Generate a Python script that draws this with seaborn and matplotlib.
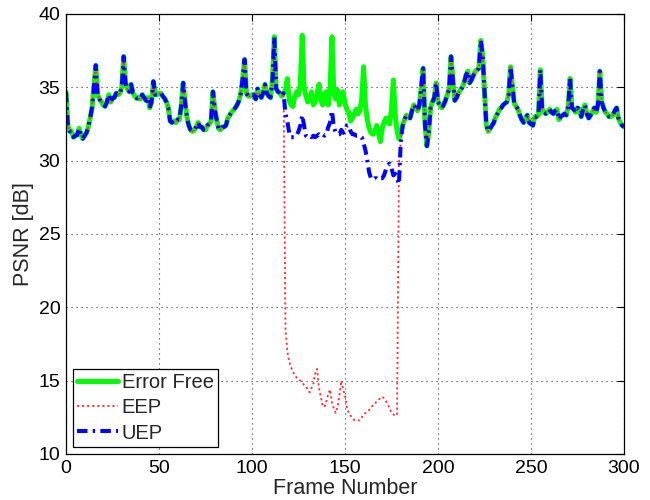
import numpy as np
import pandas as pd
import matplotlib
matplotlib.use("Agg")
import matplotlib.pyplot as plt
import seaborn as sns

# ---- data (PSNR in dB per frame) ----
# frames 0..117: all three schemes coincide
psnr_start = [34.7, 32.4, 32.0, 32.0, 31.6, 31.7, 31.75, 32.2, 31.8, 31.5,
              31.7, 31.9, 32.3, 32.9, 33.6, 35.0, 36.5, 34.5, 34.2, 34.0,
              33.8, 33.7, 34.0, 34.5, 34.0, 34.25, 34.3, 34.6, 34.5, 34.6,
              35.0, 37.1, 35.3, 34.9, 34.7, 35.2, 34.6, 34.4, 34.25, 34.3,
              34.2, 34.5, 34.3, 34.1, 34.3, 33.6, 34.0, 35.4, 34.5, 34.5,
              34.6, 34.6, 34.4, 34.25, 34.0, 33.6, 32.7, 32.6, 32.7, 32.6,
              32.8, 32.8, 33.8, 35.3, 34.0, 33.0, 32.4, 32.1, 32.0, 32.1,
              32.3, 32.6, 32.3, 32.3, 32.1, 32.1, 32.4, 32.5, 32.7, 34.7,
              33.5, 32.8, 32.2, 32.1, 32.3, 32.3, 32.4, 32.9, 33.1, 33.3,
              33.45, 33.6, 33.8, 34.1, 34.6, 35.6, 36.9, 34.6, 34.4, 34.4,
              34.5, 34.5, 34.2, 34.9, 34.5, 34.3, 34.6, 35.2, 34.6, 34.4,
              34.3, 35.5, 38.45, 34.9, 34.7, 34.6, 34.4, 34.6]

# frames 118..181: the schemes differ
error_free_mid = [34.8, 35.6, 34.1, 33.8, 33.7, 34.4, 34.7, 34.5, 35.2, 38.55,
                  35.0, 34.4, 34.0, 34.1, 34.7, 33.8, 34.0, 34.5, 35.2, 34.1,
                  33.8, 34.6, 34.7, 33.8, 35.0, 38.45, 34.6, 34.2, 34.8, 33.8,
                  34.2, 34.7, 33.9, 33.5, 33.3, 32.7, 32.9, 33.2, 33.5, 33.2,
                  33.4, 34.2, 36.4, 33.8, 32.8, 32.2, 31.9, 31.8, 32.0, 32.4,
                  31.9, 31.3, 32.2, 32.6, 32.9, 32.6, 32.5, 33.5, 35.5, 33.1,
                  32.0, 31.5, 31.9, 32.4]
eep_mid = [18.5, 17.0, 16.3, 15.9, 15.6, 15.4, 15.2, 15.1, 15.0, 14.9,
           14.7, 14.6, 14.4, 14.2, 14.5, 14.8, 15.5, 15.8, 14.5, 13.9,
           13.3, 13.2, 13.6, 14.1, 14.4, 13.5, 13.1, 12.8, 13.2, 14.0,
           15.0, 14.4, 14.0, 13.2, 12.8, 12.6, 12.5, 12.3, 12.3, 12.3,
           12.3, 12.5, 12.7, 12.8, 12.9, 13.0, 13.2, 13.3, 13.4, 13.6,
           13.7, 13.8, 13.9, 13.8, 13.6, 13.4, 13.1, 12.8, 12.7, 12.6,
           12.7, 29.8, 31.3, 32.4]
uep_mid = [33.2, 32.7, 31.9, 31.6, 31.6, 31.6, 31.7, 32.0, 32.4, 33.1,
           32.4, 31.7, 31.6, 31.7, 31.6, 31.7, 31.6, 31.7, 31.8, 31.7,
           31.8, 31.7, 31.8, 32.3, 32.6, 33.4, 32.3, 31.9, 31.8, 31.8,
           32.1, 31.9, 32.0, 32.4, 32.4, 32.0, 31.8, 31.8, 31.7, 31.7,
           31.7, 31.6, 31.2, 30.7, 30.0, 29.2, 28.8, 28.7, 28.8, 28.8,
           28.7, 28.8, 28.8, 29.0, 29.4, 29.7, 29.8, 29.5, 29.0, 29.1,
           28.8, 28.4, 31.3, 32.4]

# frames 182..300: all three schemes coincide again
psnr_end = [32.8, 33.1, 33.0, 32.9, 33.4, 33.8, 33.6, 33.4, 33.8, 35.0,
            36.3, 32.5, 31.0, 31.9, 33.6, 34.0, 34.3, 35.3, 34.0, 33.8,
            33.6, 33.8, 34.1, 34.5, 34.9, 37.1, 35.5, 34.1, 34.3, 34.6,
            34.8, 35.0, 35.3, 35.8, 36.1, 35.3, 35.5, 35.8, 36.1, 36.2,
            36.3, 38.2, 37.2, 34.7, 32.4, 32.0, 32.2, 32.4, 32.6, 33.0,
            33.2, 33.5, 33.6, 33.8, 33.9, 34.0, 34.5, 36.4, 35.1, 33.9,
            33.7, 33.5, 33.1, 32.8, 32.6, 32.9, 33.1, 32.6, 32.5, 32.4,
            33.0, 33.0, 33.1, 36.2, 33.5, 33.3, 33.2, 33.3, 33.5, 33.3,
            33.2, 33.4, 33.5, 32.8, 33.0, 33.1, 33.2, 33.1, 33.7, 35.6,
            33.6, 33.5, 33.3, 33.6, 33.5, 33.0, 33.5, 33.8, 33.2, 32.9,
            33.1, 33.3, 33.6, 33.3, 33.8, 36.1, 34.0, 33.6, 33.3, 33.2,
            33.0, 33.0, 33.1, 33.4, 33.6, 32.9, 32.6, 32.4, 32.3]

series_names = ["Error Free", "EEP", "UEP"]
x_ticks = [0, 50, 100, 150, 200, 250, 300]
y_ticks = [10, 15, 20, 25, 30, 35, 40]

# ---- build series ----
error_free = psnr_start + error_free_mid + psnr_end
eep = psnr_start + eep_mid + psnr_end
uep = psnr_start + uep_mid + psnr_end
frames = np.arange(len(error_free))

sns.set_style("white")
plt.rcParams["font.family"] = ["Liberation Sans", "DejaVu Sans"]

fig = plt.figure(figsize=(6.5, 5.0), dpi=100)
ax = fig.add_axes([0.1015, 0.092, 0.8585, 0.88])

sns.lineplot(x=frames, y=error_free, ax=ax, color="#00ff00", lw=3.6,
             label=series_names[0], estimator=None, sort=False)
sns.lineplot(x=frames, y=eep, ax=ax, color="#ff3030", lw=1.3,
             linestyle=(0, (1.2, 1.6)), label=series_names[1],
             estimator=None, sort=False)
sns.lineplot(x=frames, y=uep, ax=ax, color="#0000ff", lw=2.9,
             linestyle=(0, (2.6, 1.3, 0.6, 1.3)), label=series_names[2],
             estimator=None, sort=False)

ax.set_xlim(0, 300)
ax.set_ylim(10, 40)
ax.set_xticks(x_ticks)
ax.set_yticks(y_ticks)
ax.tick_params(direction="in", length=5, width=0.8, top=True, right=True,
               labelsize=14, colors="black", pad=4)
ax.grid(True, linestyle=(0, (1, 3.5)), color="#333333", lw=0.8)
for s in ax.spines.values():
    s.set_visible(True)
    s.set_color("black")
    s.set_linewidth(0.9)

ax.set_xlabel("Frame Number", fontsize=15.5, labelpad=1)
ax.set_ylabel("PSNR [dB]", fontsize=15.5, labelpad=3)

leg = ax.legend(loc="lower left", fontsize=14.5, frameon=True, fancybox=False,
                edgecolor="black", framealpha=1, borderaxespad=0.35,
                handlelength=2.0, handletextpad=0.2, labelspacing=0.3,
                borderpad=0.22)
leg.get_frame().set_linewidth(0.9)

fig.savefig("out.png", dpi=100, facecolor="white")
